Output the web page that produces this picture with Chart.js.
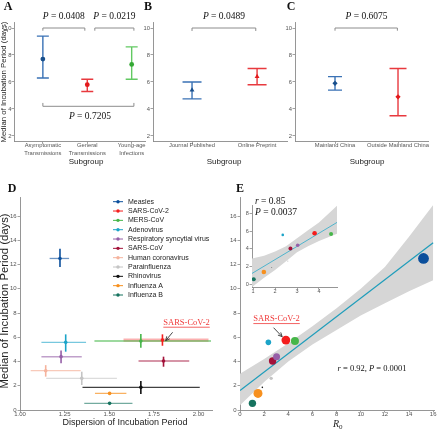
<!DOCTYPE html>
<html>
<head>
<meta charset="utf-8">
<script src="https://cdn.jsdelivr.net/npm/chart.js@4.4.1/dist/chart.umd.min.js"></script>
<style>
html, body { margin: 0; padding: 0; background: #fff; }
#wrap { position: relative; width: 440px; height: 431px; overflow: hidden; }
canvas { position: absolute; left: 0; top: 0; }
</style>
</head>
<body>
<div id="wrap">
<canvas id="cA" width="440" height="431"></canvas>
<canvas id="cB" width="440" height="431"></canvas>
<canvas id="cC" width="440" height="431"></canvas>
<canvas id="cD" width="440" height="431"></canvas>
<canvas id="cE" width="440" height="431"></canvas>
<canvas id="cI" width="440" height="431"></canvas>
</div>
<script>
// ---- panel A: subgroups by transmission
const catA = [['Asymptomatic', 'Transmissions'], ['General', 'Transmissions'], ['Young-age', 'Infections']];
const medA = [7.7, 5.8, 7.3];
const loA = [6.3, 5.3, 6.2];
const hiA = [9.4, 6.2, 8.6];

// ---- panel B: source
const catB = ['Journal Published', 'Online Preprint'];
const medB = [5.4, 6.4];
const loB = [4.75, 5.8];
const hiB = [6.0, 7.0];

// ---- panel C: region
const catC = ['Mainland China', 'Outside Mainland China'];
const medC = [5.9, 4.9];
const loC = [5.4, 3.5];
const hiC = [6.4, 7.0];

const yTicksTop = [2, 4, 6, 8, 10];

// ---- panel D / E: viruses
const viruses = ['Measles', 'SARS-CoV-2', 'MERS-CoV', 'Adenovirus', 'Respiratory syncytial virus', 'SARS-CoV',
  'Human coronavirus', 'Parainfluenza', 'Rhinovirus', 'Influenza A', 'Influenza B'];
const dispMed = [1.224, 1.798, 1.677, 1.256, 1.23, 1.804, 1.144, 1.346, 1.677, 1.502, 1.502];
const dispLo = [1.166, 1.58, 1.417, 1.12, 1.12, 1.664, 1.06, 1.147, 1.35, 1.42, 1.36];
const dispHi = [1.275, 2.056, 2.07, 1.37, 1.346, 1.948, 1.34, 1.543, 2.007, 1.596, 1.63];
const incMed = [12.5, 5.77, 5.69, 5.58, 4.4, 4.04, 3.24, 2.61, 1.87, 1.37, 0.55];
const incLo = [11.8, 5.3, 5.14, 4.81, 3.85, 3.57, 2.75, 2.06, 1.32, 1.37, 0.55];
const incHi = [13.3, 6.24, 6.27, 6.24, 4.9, 4.4, 3.7, 3.16, 2.39, 1.37, 0.55];
const r0 = [15.2, 3.8, 4.55, 2.35, 3.03, 2.7, null, 2.58, 1.85, 1.49, 1.03];

const dTicksX = [1.0, 1.25, 1.5, 1.75, 2.0];
const dTicksY = [0, 2, 4, 6, 8, 10, 12, 14, 16];
const eTicksX = [0, 2, 4, 6, 8, 10, 12, 14, 16];

// regression and its band in E
const fitX = [0, 16];
const fitY = [1.6, 13.8];
const bandX = [0, 2, 4, 6, 8, 10, 12, 14, 16];
const bandLo = [0.4, 2.3, 4.0, 5.4, 6.6, 7.8, 8.8, 9.8, 10.7];
const bandHi = [3.0, 4.2, 5.5, 6.9, 8.4, 10.0, 11.8, 14.3, 16.9];

// inset (without measles)
const insFitX = [0.95, 4.82];
const insFitY = [1.2, 7.0];
const insBandX = [0.95, 1.5, 2, 2.5, 3, 3.5, 4, 4.82];
const insBandLo = [-0.35, 0.7, 1.6, 2.6, 3.6, 4.3, 4.9, 5.7];
const insBandHi = [2.9, 3.2, 3.7, 4.3, 5.2, 6.1, 7.0, 8.9];
const insTicksX = [1, 2, 3, 4];
const insTicksY = [0, 2, 4, 6, 8];

// styles
const virusColors = ['#0b4f9c', '#f41d1d', '#46b649', '#1ca4c8', '#9660a8', '#a3123a',
  '#f5b39d', '#c4c4c4', '#111111', '#f7901e', '#16735f'];
const hWidth = [1.3, 3.2, 1.3, 1.3, 1.5, 1.3, 1.3, 1.3, 1.1, 1.3, 1.3];
const hAlpha = [0.6, 0.35, 0.7, 0.6, 0.6, 0.6, 0.7, 0.6, 0.8, 0.7, 0.6];
const eRadius = [5.4, 4.4, 4.0, 2.8, 3.5, 3.7, 0, 1.7, 0.8, 4.5, 3.7];
const iRadius = [0, 2.3, 2.0, 1.3, 1.8, 2.0, 0, 0.6, 0.4, 2.3, 2.0];
const topBar = ['#3a72b5', '#e8393e', '#62c962'];
const topPt = ['#184f8c', '#e31a1c', '#34a834'];

const W = 440, H = 431;
const SANS = "'Liberation Sans', Arial, sans-serif";
const SERIF = "'Liberation Serif', 'Times New Roman', serif";

function hexA(hex, a) {
  const n = parseInt(hex.slice(1), 16);
  return 'rgba(' + (n >> 16) + ',' + ((n >> 8) & 255) + ',' + (n & 255) + ',' + a + ')';
}

// chart area [x0,x1]x[y0,y1]; left axis box aw wide, bottom axis box ah high
function pad(x0, y0, x1, y1, aw, ah) {
  return {left: x0 - aw, top: y0, right: W - x1, bottom: H - y1 - ah};
}

function axis(min, max, ticks, fmt, isX, size, box, tpad, lh) {
  return {
    type: 'linear', min: min, max: max,
    afterBuildTicks: s => { s.ticks = ticks.map(v => ({value: v})); },
    afterFit: s => { if (isX) s.height = box; else s.width = box; },
    ticks: {
      autoSkip: false, maxRotation: 0, minRotation: 0, padding: tpad,
      color: '#555', font: {family: SANS, size: size, lineHeight: lh || 1.2},
      callback: fmt
    },
    grid: {drawOnChartArea: false, drawTicks: true, tickLength: 2.5, tickColor: '#8a8a8a', tickWidth: 0.8},
    border: {display: true, color: '#8a8a8a', width: 0.9}
  };
}

// error bars are drawn under each dataset's points
const errPlugin = {
  id: 'errbars',
  beforeDatasetDraw(chart, args) {
    const ds = chart.data.datasets[args.index];
    const e = ds.err;
    if (!e) return;
    const xs = chart.scales.x, ys = chart.scales.y, ctx = chart.ctx;
    ctx.save();
    ctx.lineCap = 'butt';
    if (e.xLo) {
      e.idx.forEach(i => {
        const py = ys.getPixelForValue(e.yMid[i]);
        ctx.strokeStyle = hexA(e.color[i], e.hAlpha[i]);
        ctx.lineWidth = e.hWidth[i];
        ctx.beginPath();
        ctx.moveTo(xs.getPixelForValue(e.xLo[i]), py);
        ctx.lineTo(xs.getPixelForValue(e.xHi[i]), py);
        ctx.stroke();
      });
    }
    if (e.yLo) {
      e.idx.forEach(i => {
        const px = xs.getPixelForValue(e.xMid[i]);
        const y1 = ys.getPixelForValue(e.yLo[i]), y2 = ys.getPixelForValue(e.yHi[i]);
        ctx.strokeStyle = e.color[i];
        ctx.lineWidth = e.vWidth;
        ctx.beginPath();
        ctx.moveTo(px, y1);
        ctx.lineTo(px, y2);
        if (e.cap) {
          const c = e.cap[i];
          ctx.moveTo(px - c, y1); ctx.lineTo(px + c, y1);
          ctx.moveTo(px - c, y2); ctx.lineTo(px + c, y2);
        }
        ctx.stroke();
      });
    }
    ctx.restore();
  }
};

function rich(ctx, segs, cx, cy, align, color) {
  let w = 0;
  segs.forEach(s => { ctx.font = s[1]; w += ctx.measureText(s[0]).width; });
  let x = align === 'left' ? cx : cx - w / 2;
  ctx.fillStyle = color || '#111';
  ctx.textAlign = 'left';
  ctx.textBaseline = 'middle';
  segs.forEach(s => { ctx.font = s[1]; ctx.fillText(s[0], x, cy); x += ctx.measureText(s[0]).width; });
  return {x0: align === 'left' ? cx : cx - w / 2, w: w};
}

function pText(ctx, val, cx, cy) {
  rich(ctx, [['P', 'italic 9.5px ' + SERIF], [' = ' + val, '9.5px ' + SERIF]], cx, cy, 'center', '#111');
}

function text(ctx, s, x, y, font, color, rot) {
  ctx.save();
  ctx.translate(x, y);
  if (rot) ctx.rotate(rot);
  ctx.font = font;
  ctx.fillStyle = color || '#111';
  ctx.textAlign = 'center';
  ctx.textBaseline = 'middle';
  ctx.fillText(s, 0, 0);
  ctx.restore();
}

function bracket(ctx, xs, ys, x1, x2, yv, tip) {
  ctx.save();
  ctx.strokeStyle = '#8c8c8c';
  ctx.lineWidth = 1;
  ctx.beginPath();
  ctx.moveTo(xs.getPixelForValue(x1), ys.getPixelForValue(tip));
  ctx.lineTo(xs.getPixelForValue(x1), ys.getPixelForValue(yv));
  ctx.lineTo(xs.getPixelForValue(x2), ys.getPixelForValue(yv));
  ctx.lineTo(xs.getPixelForValue(x2), ys.getPixelForValue(tip));
  ctx.stroke();
  ctx.restore();
}

function arrow(ctx, x1, y1, x2, y2) {
  ctx.save();
  ctx.strokeStyle = '#333';
  ctx.lineWidth = 0.9;
  ctx.beginPath(); ctx.moveTo(x1, y1); ctx.lineTo(x2, y2); ctx.stroke();
  const a = Math.atan2(y2 - y1, x2 - x1), L = 4.5;
  ctx.beginPath();
  ctx.moveTo(x2 - L * Math.cos(a - 0.45), y2 - L * Math.sin(a - 0.45));
  ctx.lineTo(x2, y2);
  ctx.lineTo(x2 - L * Math.cos(a + 0.45), y2 - L * Math.sin(a + 0.45));
  ctx.stroke();
  ctx.restore();
}

function redLabel(ctx, cx, cy) {
  const r = rich(ctx, [['SARS-CoV-2', '8.5px ' + SERIF]], cx, cy, 'center', '#f03a3a');
  ctx.save();
  ctx.strokeStyle = '#f03a3a';
  ctx.lineWidth = 0.8;
  ctx.beginPath(); ctx.moveTo(r.x0, cy + 4.5); ctx.lineTo(r.x0 + r.w, cy + 4.5); ctx.stroke();
  ctx.restore();
}

function letter(ctx, s, x, y) {
  text(ctx, s, x, y, 'bold 12px ' + SERIF, '#111');
}

function build(id, area, xAxis, yAxis, datasets, draw) {
  return new Chart(document.getElementById(id), {
    type: 'scatter',
    data: {datasets: datasets},
    options: {
      responsive: false,
      animation: false,
      devicePixelRatio: 1,
      events: [],
      layout: {padding: area},
      plugins: {legend: {display: false}, tooltip: {enabled: false}},
      scales: {x: xAxis, y: yAxis}
    },
    plugins: [errPlugin, {id: 'notes', afterDraw: c => draw(c)}]
  });
}

function topSet(med, lo, hi, style, radius, caps) {
  const idx = med.map((v, i) => i);
  return {
    data: med.map((v, i) => ({x: i + 1, y: v})),
    pointStyle: style,
    pointRadius: radius,
    pointBackgroundColor: topPt.slice(0, med.length),
    pointBorderColor: topPt.slice(0, med.length),
    pointBorderWidth: 0,
    err: {idx: idx, xMid: idx.map(i => i + 1), yLo: lo, yHi: hi, color: topBar, vWidth: 1.4, cap: caps}
  };
}

// ---------- A ----------
build('cA', pad(14, 22.6, 145, 141.4, 10, 20),
  axis(0.35, 3.3, [1, 2, 3], v => catA[Math.round(v) - 1], true, 5.8, 20, -2.8, 1.42),
  axis(1.6, 10.4, yTicksTop, v => String(v), false, 5.8, 10, 0),
  [topSet(medA, loA, hiA, 'circle', 2.4, [6, 6, 6])],
  c => {
    const ctx = c.ctx, x = c.scales.x, y = c.scales.y;
    bracket(ctx, x, y, 1, 1.945, 10, 9.8);
    bracket(ctx, x, y, 2.17, 3.05, 10, 9.8);
    bracket(ctx, x, y, 1, 3.05, 4.2, 4.45);
    pText(ctx, '0.0408', x.getPixelForValue(1.47), y.getPixelForValue(10.82));
    pText(ctx, '0.0219', x.getPixelForValue(2.61), y.getPixelForValue(10.82));
    pText(ctx, '0.7205', x.getPixelForValue(2.06), y.getPixelForValue(3.41));
    text(ctx, 'Subgroup', 86, 162, '8px ' + SANS, '#222');
    text(ctx, 'Median of Incubation Period (days)', 4, 82, '7.8px ' + SANS, '#222', -Math.PI / 2);
    letter(ctx, 'A', 8, 7);
  });

// ---------- B ----------
build('cB', pad(153, 22.6, 287, 141.4, 12, 20),
  axis(0.4, 2.46, [1, 2], v => catB[Math.round(v) - 1], true, 5.8, 20, -2.8, 1.42),
  axis(1.6, 10.4, yTicksTop, v => String(v), false, 5.8, 12, 0.5),
  [topSet(medB, loB, hiB, 'triangle', 2.8, [9.5, 9.5])],
  c => {
    const ctx = c.ctx, x = c.scales.x, y = c.scales.y;
    bracket(ctx, x, y, 1, 1.98, 10, 9.78);
    pText(ctx, '0.0489', x.getPixelForValue(1.49), y.getPixelForValue(10.82));
    text(ctx, 'Subgroup', 224, 162, '8px ' + SANS, '#222');
    letter(ctx, 'B', 148, 7);
  });

// ---------- C ----------
build('cC', pad(295, 22.6, 428, 141.4, 12, 20),
  axis(0.365, 2.476, [1, 2], v => catC[Math.round(v) - 1], true, 5.8, 20, -2.8, 1.42),
  axis(1.6, 10.4, yTicksTop, v => String(v), false, 5.8, 12, 0.5),
  [topSet(medC, loC, hiC, 'rectRot', 2.6, [7, 8.5])],
  c => {
    const ctx = c.ctx, x = c.scales.x, y = c.scales.y;
    bracket(ctx, x, y, 1, 1.99, 10, 9.8);
    pText(ctx, '0.6075', x.getPixelForValue(1.5), y.getPixelForValue(10.82));
    text(ctx, 'Subgroup', 367, 162, '8px ' + SANS, '#222');
    letter(ctx, 'C', 291, 7);
  });

// ---------- D ----------
const allIdx = viruses.map((v, i) => i);
build('cD', pad(20, 197, 212, 410, 14, 11),
  axis(1.0, 2.0756, dTicksX, v => v.toFixed(2), true, 6, 11, -2),
  axis(0, 17.57, dTicksY, v => String(v), false, 6, 14, 0.8),
  [{
    data: dispMed.map((v, i) => ({x: v, y: incMed[i]})),
    pointRadius: 1.8,
    pointBackgroundColor: virusColors,
    pointBorderWidth: 0,
    err: {idx: allIdx, xMid: dispMed, yMid: incMed, xLo: dispLo, xHi: dispHi, yLo: incLo, yHi: incHi,
      color: virusColors, hAlpha: hAlpha, hWidth: hWidth, vWidth: 1.6}
  }],
  c => {
    const ctx = c.ctx, x = c.scales.x, y = c.scales.y;
    // legend
    viruses.forEach((name, i) => {
      const ly = 201.7 + 9.33 * i;
      ctx.save();
      ctx.strokeStyle = virusColors[i];
      ctx.lineWidth = 1;
      ctx.beginPath(); ctx.moveTo(113, ly); ctx.lineTo(123, ly); ctx.stroke();
      ctx.fillStyle = virusColors[i];
      ctx.beginPath(); ctx.arc(118, ly, 1.7, 0, Math.PI * 2); ctx.fill();
      ctx.restore();
      rich(ctx, [[name, '7px ' + SANS]], 128, ly, 'left', '#222');
    });
    redLabel(ctx, x.getPixelForValue(1.933), y.getPixelForValue(7.2));
    arrow(ctx, x.getPixelForValue(1.855), y.getPixelForValue(6.41), x.getPixelForValue(1.816), y.getPixelForValue(5.72));
    text(ctx, 'Dispersion of Incubation Period', 125, 423, '9px ' + SANS, '#222');
    text(ctx, 'Median of Incubation Period (days)', 5, 301, '11.3px ' + SANS, '#222', -Math.PI / 2);
    letter(ctx, 'D', 12, 189);
  });

// ---------- E ----------
function bubbleSet(order, radius) {
  const idx = order.filter(i => r0[i] !== null && radius[i] > 0);
  return {
    data: idx.map(i => ({x: r0[i], y: incMed[i]})),
    pointRadius: idx.map(i => radius[i]),
    pointBackgroundColor: idx.map(i => virusColors[i]),
    pointBorderWidth: 0,
    order: 0
  };
}
function lineSet(xs, ys, color, width, order, fill) {
  return {
    data: xs.map((v, i) => ({x: v, y: ys[i]})),
    showLine: true,
    pointRadius: 0,
    borderColor: color,
    borderWidth: width,
    backgroundColor: '#d6d6d6',
    fill: fill === undefined ? false : fill,
    order: order
  };
}
const reverseIdx = allIdx.slice().reverse();

build('cE', pad(240, 197, 437, 410, 14, 11),
  axis(0, 16.12, eTicksX, v => String(v), true, 6, 11, -1.6),
  axis(0, 17.57, dTicksY, v => String(v), false, 6, 14, 0.8),
  [
    bubbleSet(reverseIdx, eRadius),
    lineSet(fitX, fitY, '#1f9dbb', 1.2, 1),
    lineSet(bandX, bandHi, 'rgba(0,0,0,0)', 0, 2, {target: 3}),
    lineSet(bandX, bandLo, 'rgba(0,0,0,0)', 0, 3)
  ],
  c => {
    const ctx = c.ctx, x = c.scales.x, y = c.scales.y;
    redLabel(ctx, x.getPixelForValue(3.03), y.getPixelForValue(7.5));
    arrow(ctx, x.getPixelForValue(2.78), y.getPixelForValue(6.79), x.getPixelForValue(3.49), y.getPixelForValue(6.05));
    rich(ctx, [['r', 'italic 8.5px ' + SERIF], [' = 0.92, ', '8.5px ' + SERIF], ['P', 'italic 8.5px ' + SERIF], [' = 0.0001', '8.5px ' + SERIF]],
      x.getPixelForValue(10.94), y.getPixelForValue(3.38), 'center', '#111');
    const rw = rich(ctx, [['R', 'italic 10px ' + SERIF]], 336, 424.5, 'center', '#222');
    rich(ctx, [['0', '7px ' + SERIF]], rw.x0 + rw.w, 427.5, 'left', '#222');
    letter(ctx, 'E', 240, 189);
  });

// ---------- inset ----------
build('cI', pad(252, 205, 337, 287, 9, 9),
  axis(0.95, 4.82, insTicksX, v => String(v), true, 5.5, 9, -1),
  axis(-0.34, 8.98, insTicksY, v => String(v), false, 5.5, 9, 0.8),
  [
    bubbleSet(reverseIdx, iRadius),
    lineSet(insFitX, insFitY, '#3fb0cc', 0.9, 1),
    lineSet(insBandX, insBandHi, 'rgba(0,0,0,0)', 0, 2, {target: 3}),
    lineSet(insBandX, insBandLo, 'rgba(0,0,0,0)', 0, 3)
  ],
  c => {
    const ctx = c.ctx;
    rich(ctx, [['r', 'italic 9.5px ' + SERIF], [' = 0.85', '9.5px ' + SERIF]], 255, 201, 'left', '#111');
    rich(ctx, [['P', 'italic 9.5px ' + SERIF], [' = 0.0037', '9.5px ' + SERIF]], 255, 212, 'left', '#111');
  });
</script>
</body>
</html>
